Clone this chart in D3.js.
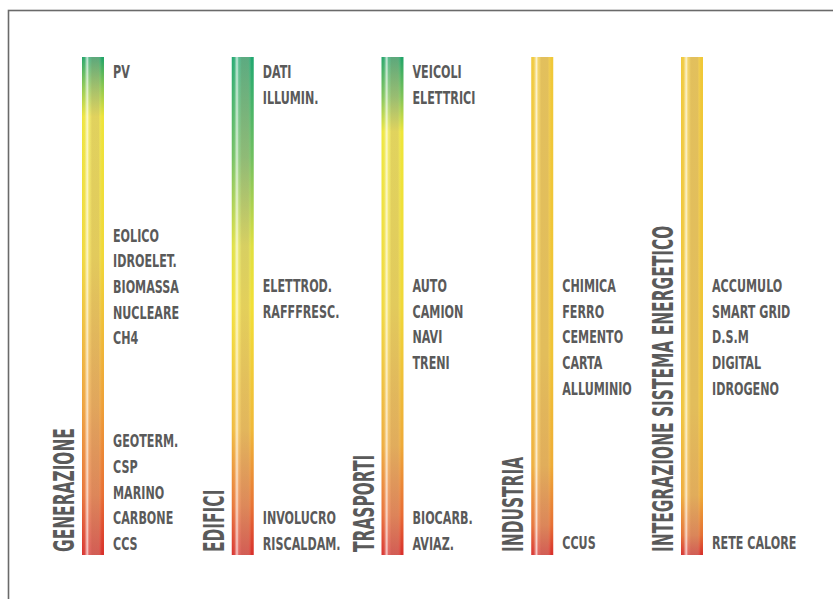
<!DOCTYPE html>
<html>
<head>
<meta charset="utf-8">
<script src="https://cdn.jsdelivr.net/npm/d3@7"></script>
<style>
  body { margin: 0; background: #fff; }
  text { font-family: "Liberation Sans Narrow", "DejaVu Sans Condensed", "Roboto", sans-serif; font-weight: bold; fill: #5a5a5a; }
</style>
</head>
<body>
<div id="chart"></div>
<script>
(function(){
    // settori e relativi titoli
    const sectors = ['GENERAZIONE', 'EDIFICI', 'TRASPORTI', 'INDUSTRIA', 'INTEGRAZIONE SISTEMA ENERGETICO'];

    // tecnologie per settore: "at" = riga di partenza del gruppo
    const generazione = [
        { at: 0, items: ['PV'] },
        { at: 6.35, items: ['EOLICO', 'IDROELET.', 'BIOMASSA', 'NUCLEARE', 'CH4'] },
        { at: 14.35, items: ['GEOTERM.', 'CSP', 'MARINO', 'CARBONE', 'CCS'] },
    ];
    const edifici = [
        { at: 0, items: ['DATI', 'ILLUMIN.'] },
        { at: 8.3, items: ['ELETTROD.', 'RAFFFRESC.'] },
        { at: 17.35, items: ['INVOLUCRO', 'RISCALDAM.'] },
    ];
    const trasporti = [
        { at: 0, items: ['VEICOLI', 'ELETTRICI'] },
        { at: 8.3, items: ['AUTO', 'CAMION', 'NAVI', 'TRENI'] },
        { at: 17.35, items: ['BIOCARB.', 'AVIAZ.'] },
    ];
    const industria = [
        { at: 8.3, items: ['CHIMICA', 'FERRO', 'CEMENTO', 'CARTA', 'ALLUMINIO'] },
        { at: 18.3, items: ['CCUS'] },
    ];
    const integrazione = [
        { at: 8.3, items: ['ACCUMULO', 'SMART GRID', 'D.S.M', 'DIGITAL', 'IDROGENO'] },
        { at: 18.3, items: ['RETE CALORE'] },
    ];
    const groups = [generazione, edifici, trasporti, industria, integrazione];

    // colori della barra (offset, colore) per settore
    const gradGenerazione = [[0, '#22a468'], [0.06, '#8cc850'], [0.12, '#eee43a'], [0.4, '#f0d838'], [0.7, '#eea038'], [0.88, '#e87034'], [1, '#d8302c']];
    const gradEdifici = [[0, '#22a870'], [0.2, '#70c060'], [0.38, '#e0e040'], [0.5, '#f2e036'], [0.75, '#f0b838'], [0.9, '#e87434'], [1, '#d8302c']];
    const gradTrasporti = [[0, '#22a468'], [0.08, '#80c458'], [0.15, '#eee63a'], [0.5, '#f0d838'], [0.78, '#eeaa38'], [0.92, '#e86c34'], [1, '#d8302c']];
    const gradIndustria = [[0, '#f0c838'], [0.6, '#f0c436'], [0.82, '#eeac36'], [0.94, '#e67034'], [1, '#d8302c']];
    const gradIntegrazione = [[0, '#f0c838'], [0.7, '#f0c436'], [0.88, '#eeaa36'], [0.96, '#e47034'], [1, '#d6302c']];
    const grads = [gradGenerazione, gradEdifici, gradTrasporti, gradIndustria, gradIntegrazione];

    const fullWidth = 833;
    const fullHeight = 599;

    const barTop = 57;
    const barBottom = 555;
    const barWidth = 22;

    const svg = d3.select('#chart')
        .append('svg')
            .attr('width', fullWidth)
            .attr('height', fullHeight);

    const defs = svg.append('defs');

    // cornice
    svg.append('rect')
        .attr('x', 8.5)
        .attr('y', 10.5)
        .attr('width', 1000)
        .attr('height', 800)
        .attr('fill', 'none')
        .attr('stroke', '#6a6a6a')
        .attr('stroke-width', 1.6);

    const xScale = d3.scalePoint()
        .domain(sectors)
        .range([82, 681]);

    const rowScale = d3.scaleLinear()
        .domain([0, 1])
        .range([78.5, 78.5 + 25.7]);

    // effetto "tubo" orizzontale
    const gloss = defs.append('linearGradient')
        .attr('id', 'gloss')
        .attr('x1', 0).attr('x2', 1).attr('y1', 0).attr('y2', 0);
    [[0, '#fff', 0], [0.12, '#fff', 0.1], [0.24, '#fff', 0.75], [0.32, '#fff', 0.25],
     [0.45, '#c8b0a0', 0.35], [0.75, '#c8b0a0', 0.35], [0.9, '#fff', 0], [1, '#fff', 0]]
        .forEach(s => gloss.append('stop')
            .attr('offset', s[0])
            .attr('stop-color', s[1])
            .attr('stop-opacity', s[2]));

    grads.forEach((g, i) => {
        const lg = defs.append('linearGradient')
            .attr('id', 'grad' + i)
            .attr('x1', 0).attr('x2', 0).attr('y1', 0).attr('y2', 1);
        lg.selectAll('stop')
            .data(g)
            .enter()
            .append('stop')
                .attr('offset', d => d[0])
                .attr('stop-color', d => d[1]);
    });

    const sector = svg.selectAll('g.sector')
        .data(sectors)
        .enter()
        .append('g')
            .attr('class', 'sector');

    sector.append('rect')
        .attr('x', d => xScale(d))
        .attr('y', barTop)
        .attr('width', barWidth)
        .attr('height', barBottom - barTop)
        .attr('fill', (d, i) => `url(#grad${i})`);

    sector.append('rect')
        .attr('x', d => xScale(d))
        .attr('y', barTop)
        .attr('width', barWidth)
        .attr('height', barBottom - barTop)
        .attr('fill', 'url(#gloss)');

    // misura per comprimere il testo come nel font condensato originale
    const probe = svg.append('text').attr('font-size', 18).text('BIOMASSA');
    const labelScale = 66 / probe.node().getComputedTextLength();
    probe.attr('font-size', 28).text('GENERAZIONE');
    const titleScale = 124 / probe.node().getComputedTextLength();
    probe.remove();

    sector.each(function(name, i) {
        const g = d3.select(this);
        const labels = g.append('g')
            .attr('transform', `translate(${xScale(name) + 31}, 0) scale(${labelScale}, 1)`);
        groups[i].forEach(grp => {
            grp.items.forEach((t, k) => {
                labels.append('text')
                    .attr('x', 0)
                    .attr('y', rowScale(grp.at + k))
                    .attr('font-size', 18)
                    .text(t);
            });
        });

        g.append('text')
            .attr('transform', `translate(${xScale(name) - 8}, 552) rotate(-90) scale(${titleScale}, 1)`)
            .attr('font-size', 28)
            .text(name);
    });
}())
</script>
</body>
</html>
